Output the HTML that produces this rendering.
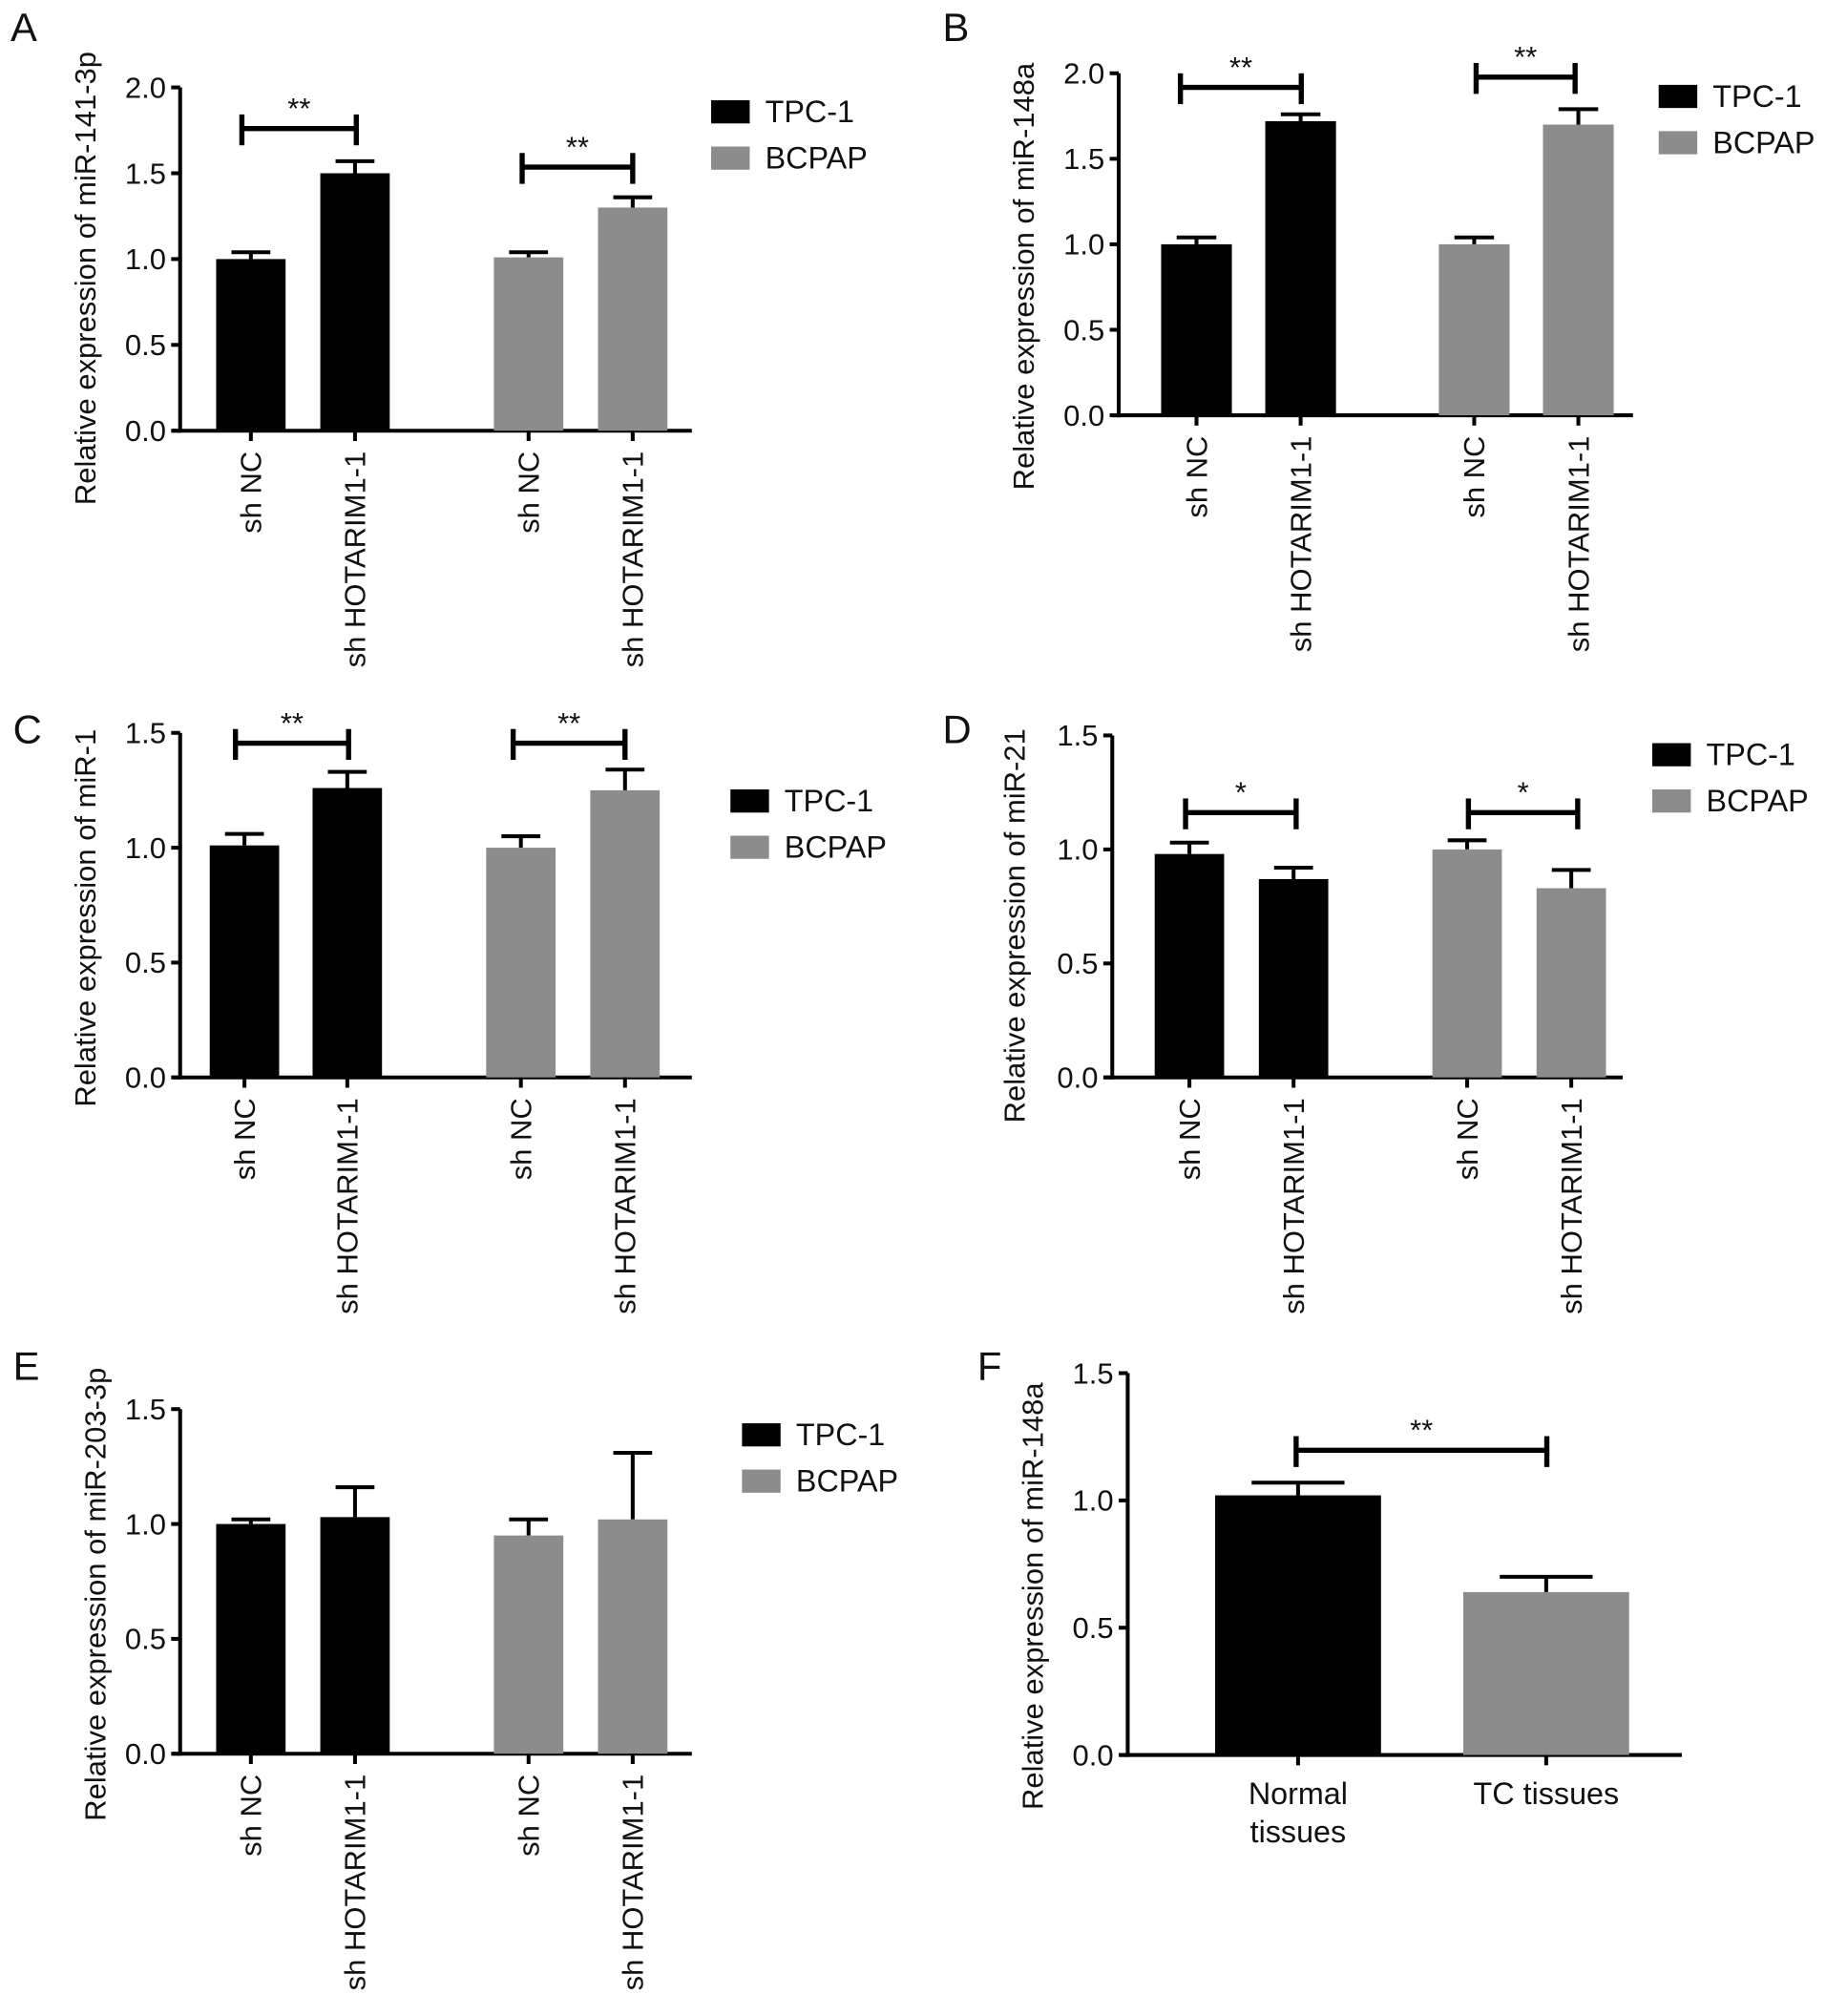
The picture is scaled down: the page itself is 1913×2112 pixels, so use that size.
<!DOCTYPE html>
<html><head><meta charset="utf-8"><style>
html,body{margin:0;padding:0;background:#fff}
svg{display:block}
text{font-family:"Liberation Sans",Arial,sans-serif;fill:#111}
</style></head><body>
<svg id="fig" width="1913" height="2112" viewBox="0 0 1420 1568" xmlns="http://www.w3.org/2000/svg"></svg>
<script>
// data arrays
const groupLabels = ["sh NC","sh HOTARIM1-1","sh NC","sh HOTARIM1-1"];
const valsA = [1.0,1.5,1.01,1.3];   const errA = [0.04,0.07,0.03,0.06];
const valsB = [1.0,1.72,1.0,1.7];   const errB = [0.04,0.04,0.04,0.09];
const valsC = [1.01,1.26,1.0,1.25]; const errC = [0.05,0.07,0.05,0.09];
const valsD = [0.98,0.87,1.0,0.83]; const errD = [0.05,0.05,0.04,0.08];
const valsE = [1.0,1.03,0.95,1.02]; const errE = [0.02,0.13,0.07,0.29];
const catsF = ["Normal tissues","TC tissues"];
const valsF = [1.02,0.64]; const errF = [0.05,0.06];
const ticks2 = [0,0.5,1.0,1.5,2.0];
const ticks15 = [0,0.5,1.0,1.5];
const seriesNames = ["TPC-1","BCPAP"];

const NS="http://www.w3.org/2000/svg";
const svg=document.getElementById('fig');
function el(tag,attrs,parent){const e=document.createElementNS(NS,tag);for(const k in attrs)e.setAttribute(k,attrs[k]);(parent||svg).appendChild(e);return e;}
const colors=["#000","#8c8c8c"];

function panel(p){
  const g=el('g',{});
  
  
  const ymax=p.ticks[p.ticks.length-1];
  const Y=v=>p.y0-(p.y0-p.yTop)*v/ymax;
  const lt=el('text',{x:p.lx,y:p.ly,'font-size':31},g);lt.textContent=p.letter;
  
  
  const ya=el('line',{x1:p.ax,y1:p.yTop,x2:p.ax,y2:p.y0+1.5,stroke:'#000','stroke-width':3},g);
  
  
  const xa=el('line',{x1:p.ax-6,y1:p.y0,x2:p.xEnd,y2:p.y0,stroke:'#000','stroke-width':3},g);
  
  
  p.ticks.forEach(t=>{
    el('line',{x1:p.ax-7,y1:Y(t),x2:p.ax,y2:Y(t),stroke:'#000','stroke-width':3},g);
    const tx=el('text',{x:p.ax-11,y:Y(t)+8,'font-size':23,'text-anchor':'end'},g);
    tx.textContent=t.toFixed(1);
    
    
  });
  const yt=el('text',{x:0,y:0,'font-size':23,'text-anchor':'middle',transform:`translate(${p.titleX},${(p.yTop+p.y0)/2+p.titleDy}) rotate(-90)`},g);
  yt.textContent=p.title;
  
  
  p.vals.forEach((v,i)=>{
    const x=p.barX[i], w=p.barW, cx=x+w/2;
    const top=Y(v), et=Y(v+p.err[i]);
    const eb=el('line',{x1:cx,y1:top,x2:cx,y2:et,stroke:'#000','stroke-width':3},g);
    
    
    el('line',{x1:cx-w*0.28,y1:et,x2:cx+w*0.28,y2:et,stroke:'#000','stroke-width':3},g);
    const r=el('rect',{x:x,y:top,width:w,height:p.y0-top,fill:colors[p.colorIdx[i]]},g);
    
    
    el('line',{x1:cx,y1:p.y0,x2:cx,y2:p.y0+8,stroke:'#000','stroke-width':3},g);
    if(p.rotLabels){
      const lab=el('text',{x:0,y:0,'font-size':23,'text-anchor':'end',transform:`translate(${cx+8},${p.y0+16}) rotate(-90)`},g);
      lab.textContent=p.labels[i];
      
      
    } else {
      p.labels[i].split('|').forEach((s,k)=>{
        const lab=el('text',{x:cx,y:p.y0+38+k*30,'font-size':24,'text-anchor':'middle'},g);
        lab.textContent=s;
        
        
      });
    }
  });
  (p.brackets||[]).forEach(b=>{
    const bg=el('g',{},g);
    
    
    el('line',{x1:b.x1,y1:b.y,x2:b.x2,y2:b.y,stroke:'#000','stroke-width':4},bg);
    el('line',{x1:b.x1,y1:b.y-11,x2:b.x1,y2:b.y+13,stroke:'#000','stroke-width':4},bg);
    el('line',{x1:b.x2,y1:b.y-11,x2:b.x2,y2:b.y+13,stroke:'#000','stroke-width':4},bg);
    const s=el('text',{x:(b.x1+b.x2)/2,y:b.y-8,'font-size':23,'text-anchor':'middle'},bg);
    s.textContent=b.s;
  });
  if(p.legend){
    seriesNames.forEach((n,i)=>{
      const lg=el('g',{},g);
      
      
      const ly=p.legend.y+i*36;
      el('rect',{x:p.legend.x,y:ly-9,width:30,height:18,fill:colors[i]},lg);
      const t=el('text',{x:p.legend.x+42,y:ly+8,'font-size':24},lg);
      t.textContent=n;
    });
  }
}

panel({letter:'A',lx:8,ly:32,ax:140,yTop:68,y0:335,xEnd:538,ticks:ticks2,vals:valsA,err:errA,
  barX:[168,249,384,465],barW:54,colorIdx:[0,0,1,1],labels:groupLabels,rotLabels:true,
  title:'Relative expression of miR-141-3p',titleX:74,titleDy:15,
  brackets:[{x1:188,x2:277,y:100,s:'**'},{x1:406,x2:492,y:130,s:'**'}],legend:{x:553,y:87}});
panel({letter:'B',lx:733,ly:32,ax:870,yTop:57,y0:323,xEnd:1270,ticks:ticks2,vals:valsB,err:errB,
  barX:[903,984,1119,1200],barW:55,colorIdx:[0,0,1,1],labels:groupLabels,rotLabels:true,
  title:'Relative expression of miR-148a',titleX:804,titleDy:25,
  brackets:[{x1:918,x2:1012,y:68,s:'**'},{x1:1148,x2:1225,y:60,s:'**'}],legend:{x:1290,y:75}});
panel({letter:'C',lx:10,ly:578,ax:140,yTop:570,y0:838,xEnd:538,ticks:ticks15,vals:valsC,err:errC,
  barX:[163,243,378,459],barW:54,colorIdx:[0,0,1,1],labels:groupLabels,rotLabels:true,
  title:'Relative expression of miR-1',titleX:74,titleDy:10,
  brackets:[{x1:183,x2:271,y:578,s:'**'},{x1:399,x2:486,y:578,s:'**'}],legend:{x:568,y:623}});
panel({letter:'D',lx:733,ly:578,ax:865,yTop:572,y0:838,xEnd:1262,ticks:ticks15,vals:valsD,err:errD,
  barX:[898,979,1114,1195],barW:54,colorIdx:[0,0,1,1],labels:groupLabels,rotLabels:true,
  title:'Relative expression of miR-21',titleX:797,titleDy:15,
  brackets:[{x1:922,x2:1008,y:632,s:'*'},{x1:1142,x2:1227,y:632,s:'*'}],legend:{x:1285,y:587}});
panel({letter:'E',lx:10,ly:1073,ax:140,yTop:1096,y0:1364,xEnd:538,ticks:ticks15,vals:valsE,err:errE,
  barX:[168,249,384,465],barW:54,colorIdx:[0,0,1,1],labels:groupLabels,rotLabels:true,
  title:'Relative expression of miR-203-3p',titleX:82,titleDy:10,
  brackets:[],legend:{x:577,y:1116}});
panel({letter:'F',lx:760,ly:1073,ax:877,yTop:1068,y0:1365,xEnd:1308,ticks:ticks15,vals:valsF,err:errF,
  barX:[945,1138],barW:129,colorIdx:[0,1],labels:['Normal|tissues','TC tissues'],rotLabels:false,
  title:'Relative expression of miR-148a',titleX:811,titleDy:25,
  brackets:[{x1:1008,x2:1203,y:1128,s:'**'}]});
</script>
</body></html>
